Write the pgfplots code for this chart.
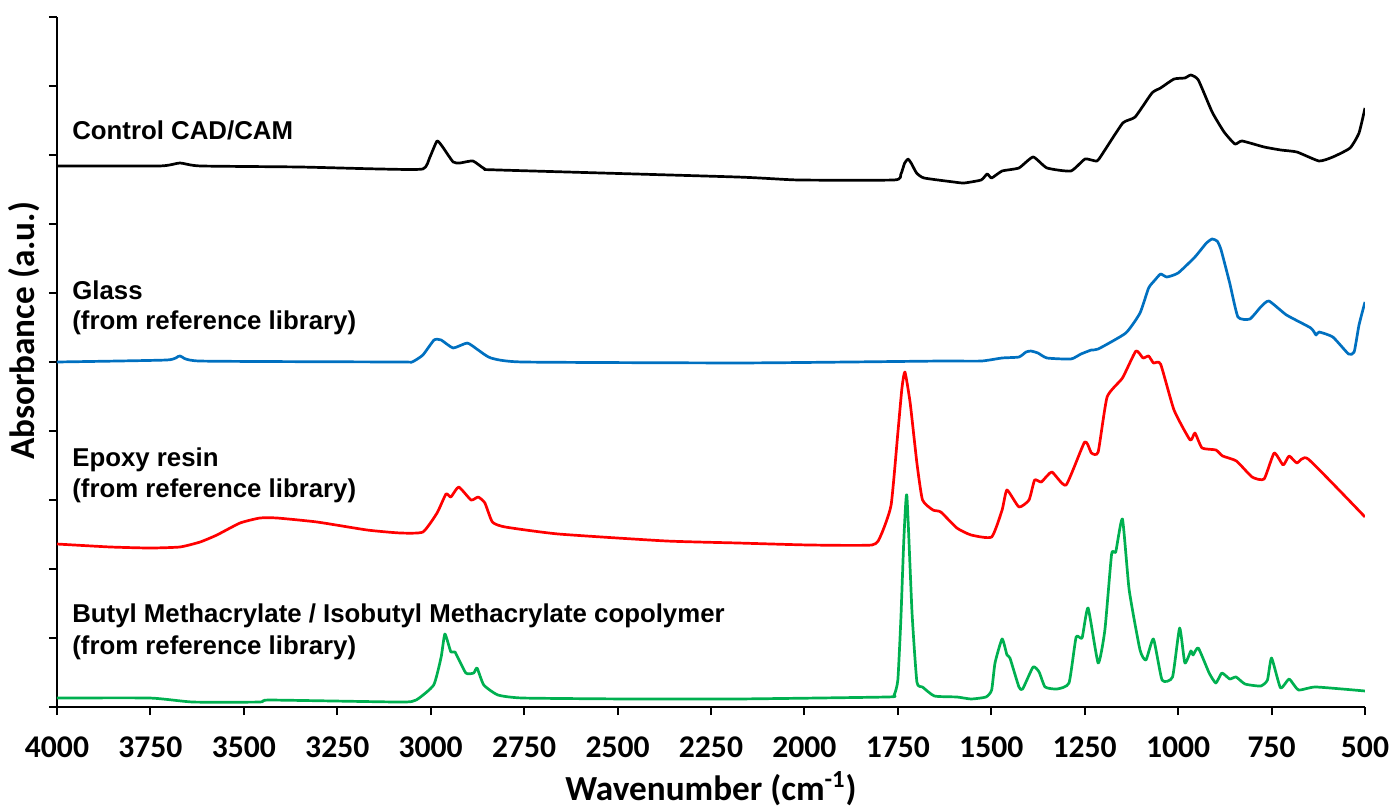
\documentclass[border=0pt]{standalone}
\usepackage{fontspec}
\setmainfont{Carlito}
\newfontfamily\arialfont{Liberation Sans}
\usepackage{pgfplots}
\pgfplotsset{compat=1.18}
\definecolor{cblue}{RGB}{0,112,192}
\definecolor{cred}{RGB}{255,0,0}
\definecolor{cgreen}{RGB}{0,176,80}
\begin{document}
\begin{tikzpicture}
\begin{axis}[name=ax, width=654pt, height=345pt, scale only axis,
 x dir=reverse, xmin=500, xmax=4000, ymin=0, ymax=10,
 xtick={500,750,...,4000}, ytick={0,1,...,10}, yticklabels={},
 axis x line*=bottom, axis y line*=left, tick align=outside,
 major tick length=4pt, axis line style={line width=1.3pt},
 tick style={line width=1pt, black},
 /pgf/number format/1000 sep={}, /pgf/number format/assume math mode=true,
 xticklabel style={font=\fontsize{15.8}{19}\selectfont\bfseries, anchor=base, yshift=-21pt},
 xlabel={Wavenumber (cm\textsuperscript{-1})}, ylabel={Absorbance (a.u.)},
 label style={font=\fontsize{17.6}{21}\selectfont\bfseries},
 xlabel style={at={(axis description cs:0.5,-0.1348)}, anchor=base},
 ylabel style={at={(axis description cs:-0.00765,0.545)}, anchor=south},
 every axis plot/.append style={line width=1.35pt, line join=round, smooth, tension=0.3},
]
\addplot[black] coordinates {(4000,7.841)(3724,7.841)(3671,7.884)(3617,7.841)(3350,7.826)(3136,7.797)(3021,7.797)(3002,7.971)(2983,8.203)(2968,8.116)(2940,7.899)(2922,7.884)(2887,7.913)(2855,7.797)(2820,7.783)(2180,7.681)(2017,7.638)(1760,7.638)(1742,7.72)(1732,7.88)(1723,7.942)(1714,7.88)(1700,7.74)(1680,7.667)(1601,7.609)(1573,7.594)(1527,7.638)(1511,7.725)(1499,7.667)(1471,7.768)(1426,7.812)(1388,7.971)(1351,7.812)(1287,7.768)(1249,7.942)(1217,7.913)(1196,8.072)(1148,8.464)(1115,8.551)(1070,8.899)(1047,8.971)(1011,9.101)(982,9.116)(966,9.159)(946,9.087)(909,8.623)(877,8.333)(848,8.159)(829,8.203)(770,8.116)(725,8.072)(682,8.043)(623,7.913)(586,7.971)(540,8.101)(516,8.319)(500,8.681)};
\addplot[cblue] coordinates {(4000,5.0)(3706,5.029)(3671,5.087)(3617,5.014)(3082,5.0)(3050,5.0)(3021,5.101)(2991,5.319)(2972,5.319)(2940,5.203)(2902,5.275)(2873,5.174)(2839,5.058)(2753,5.0)(2180,4.986)(1878,5.0)(1637,5.014)(1527,5.014)(1471,5.058)(1426,5.072)(1407,5.145)(1394,5.159)(1375,5.130)(1351,5.058)(1287,5.043)(1260,5.116)(1232,5.174)(1214,5.188)(1140,5.420)(1102,5.710)(1079,6.072)(1062,6.188)(1047,6.275)(1030,6.232)(1000,6.290)(955,6.522)(925,6.72)(909,6.783)(895,6.75)(885,6.623)(862,6.145)(840,5.652)(808,5.623)(779,5.797)(757,5.884)(710,5.681)(645,5.493)(631,5.391)(623,5.435)(586,5.362)(544,5.116)(529,5.145)(516,5.536)(500,5.870)};
\addplot[cred] coordinates {(4000,2.362)(3858,2.319)(3751,2.304)(3671,2.319)(3617,2.391)(3572,2.493)(3510,2.667)(3457,2.739)(3411,2.739)(3304,2.681)(3170,2.565)(3082,2.522)(3021,2.536)(2983,2.812)(2959,3.087)(2946,3.043)(2925,3.188)(2892,3.0)(2873,3.043)(2855,2.957)(2835,2.681)(2801,2.609)(2658,2.507)(2370,2.406)(2180,2.377)(1989,2.348)(1819,2.348)(1795,2.493)(1768,2.928)(1750,3.971)(1739,4.623)(1731,4.855)(1717,4.406)(1699,3.536)(1684,3.0)(1656,2.855)(1635,2.826)(1592,2.594)(1554,2.493)(1499,2.464)(1471,2.855)(1458,3.145)(1426,2.899)(1399,3.0)(1384,3.290)(1366,3.261)(1338,3.406)(1300,3.217)(1250,3.841)(1232,3.681)(1214,3.696)(1190,4.493)(1149,4.768)(1113,5.159)(1094,5.058)(1079,5.087)(1066,4.986)(1047,4.971)(1011,4.304)(968,3.870)(955,3.971)(936,3.754)(899,3.725)(881,3.638)(844,3.565)(802,3.333)(770,3.304)(743,3.681)(719,3.507)(703,3.638)(682,3.536)(652,3.594)(500,2.754)};
\addplot[cgreen] coordinates {(4000,0.130)(3751,0.130)(3636,0.072)(3457,0.072)(3430,0.101)(3082,0.072)(3039,0.101)(2992,0.319)(2972,0.725)(2962,1.058)(2946,0.797)(2935,0.797)(2906,0.493)(2885,0.493)(2876,0.565)(2858,0.319)(2820,0.174)(2753,0.130)(2467,0.116)(2180,0.116)(1779,0.145)(1760,0.174)(1750,0.391)(1742,1.261)(1734,2.420)(1726,3.072)(1712,1.362)(1699,0.362)(1684,0.290)(1652,0.159)(1592,0.145)(1554,0.116)(1514,0.145)(1499,0.246)(1490,0.638)(1471,0.986)(1458,0.754)(1450,0.710)(1426,0.290)(1416,0.261)(1388,0.580)(1372,0.507)(1356,0.290)(1324,0.261)(1292,0.348)(1273,1.014)(1257,1.0)(1241,1.435)(1214,0.638)(1196,1.116)(1178,2.217)(1167,2.246)(1149,2.725)(1131,1.696)(1102,0.826)(1086,0.681)(1066,0.986)(1043,0.391)(1015,0.435)(996,1.145)(982,0.638)(966,0.812)(960,0.754)(946,0.855)(917,0.493)(899,0.348)(883,0.493)(862,0.406)(845,0.435)(821,0.333)(779,0.304)(761,0.391)(750,0.710)(726,0.275)(703,0.406)(678,0.246)(632,0.290)(500,0.232)};
\begin{scope}[every node/.style={anchor=base west, inner sep=0pt, font=\arialfont\bfseries\fontsize{12.9}{15}\selectfont}]
\node at (axis cs:3960,8.227) {Control CAD/CAM};
\node at (axis cs:3960,5.909) {Glass};
\node at (axis cs:3960,5.464) {(from reference library)};
\node at (axis cs:3960,3.483) {Epoxy resin};
\node at (axis cs:3960,3.033) {(from reference library)};
\node at (axis cs:3960,1.222) {Butyl Methacrylate / Isobutyl Methacrylate copolymer};
\node at (axis cs:3960,0.768) {(from reference library)};
\end{scope}
\end{axis}
\pgfresetboundingbox
\path[use as bounding box] (ax.south west) ++(-28.5pt,-50.5pt) rectangle ++(695.5pt,404pt);
\end{tikzpicture}
\end{document}
